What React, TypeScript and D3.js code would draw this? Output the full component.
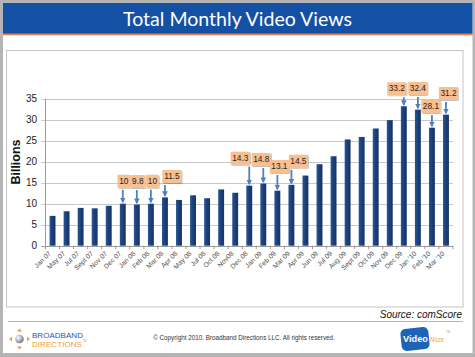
import React from "react";
import * as d3 from "d3";

const categories = [
  "Jan 07", "May 07", "Jul 07", "Sept 07", "Nov 07", "Dec 07", "Jan 08", "Feb 08", "Mar 08",
  "Apr 08", "May 08", "Jul 08", "Oct 08", "Nov08", "Dec 08", "Jan 09", "Feb 09", "Mar 09",
  "Apr 09", "Jun 09", "Jul 09", "Aug 09", "Sept 09", "Oct 09", "Nov 09", "Dec 09",
  "Jan '10", "Feb '10", "Mar '10",
];
const views = [
  7.1, 8.2, 9.0, 8.9, 9.5, 10, 9.8, 10, 11.5,
  10.9, 12.0, 11.3, 13.4, 12.6, 14.3, 14.8, 13.1, 14.5,
  16.7, 19.4, 21.3, 25.3, 25.9, 27.9, 29.9, 33.2,
  32.4, 28.1, 31.2,
];
const yTicks = [0, 5, 10, 15, 20, 25, 30, 35];
// callouts: category index
const calloutIndex = [5, 6, 7, 8, 14, 15, 16, 17, 25, 26, 27, 28];
// layout of callout boxes (offset from bar centre, gap above bar top)
const calloutDx = [1, 1, 1.5, 7, -9, -2, 2, 7, -7, 0, -1, 2.5];
const calloutGap = [16, 16.5, 16, 14.5, 21, 17.5, 17.7, 17, 11, 14.6, 14.7, 14.7];

const W = 475;
const H = 357;

export default function App() {
  const x = d3.scaleBand<string>().domain(categories).range([45.5, 453]).paddingInner(0.58).paddingOuter(0.29);
  const y = d3.scaleLinear().domain([0, 35]).range([245.7, 98.7]);
  const bw = x.bandwidth();
  const step = x.step();
  const font = "Arial, 'Liberation Sans', sans-serif";

  return (
    <svg width={W} height={H} style={{ position: "absolute", left: 0, top: 0 }} fontFamily={font}>
      <defs>
        <marker id="ah" viewBox="0 0 10 10" refX="8" refY="5" markerWidth="3.2" markerHeight="3.2" orient="auto">
          <path d="M0,0 L10,5 L0,10 z" fill="#4f81bd" />
        </marker>
        <linearGradient id="barg" x1="0" x2="1" y1="0" y2="0">
          <stop offset="0" stopColor="#2a5595" />
          <stop offset="0.5" stopColor="#1c3f78" />
          <stop offset="1" stopColor="#163466" />
        </linearGradient>
        <radialGradient id="sph" cx="0.35" cy="0.35" r="0.7">
          <stop offset="0" stopColor="#ffffff" />
          <stop offset="1" stopColor="#6a7590" />
        </radialGradient>
        <filter id="sh" x="-20%" y="-20%" width="150%" height="150%">
          <feDropShadow dx="0.8" dy="0.8" stdDeviation="0.6" floodColor="#000" floodOpacity="0.3" />
        </filter>
      </defs>
      {/* gray outer border */}
      <rect x={0} y={0} width={W} height={H} fill="#b4b4b4" />
      <rect x={3} y={3} width={469.5} height={350} fill="#ffffff" />
      {/* title bar */}
      <rect x={3} y={3} width={469.5} height={31} fill="#1450a3" />
      <rect x={3} y={33.5} width={469.5} height={1.8} fill="#e6814d" />
      <text x={237.5} y={26} textAnchor="middle" fill="#ffffff" fontSize={20} fontFamily="Lato, 'Open Sans', sans-serif" textLength={229} lengthAdjust="spacingAndGlyphs">
        Total Monthly Video Views
      </text>

      {/* chart frame */}
      <rect x={6.5} y={50.5} width={456.5} height={256.5} fill="#ffffff" stroke="#c4c4c4" strokeWidth={1} />

      {/* gridlines */}
      {yTicks.map((t) => (
        <g key={t}>
          <line x1={41.5} x2={453} y1={Math.round(y(t)) + 0.5} y2={Math.round(y(t)) + 0.5} stroke={t === 0 ? "#9a9a9a" : "#c8c8c8"} strokeWidth={1} />
          <text x={37} y={y(t) + 3.5} textAnchor="end" fontSize={10} fill="#222">
            {t}
          </text>
        </g>
      ))}
      <line x1={45.5} x2={45.5} y1={y(35)} y2={y(0)} stroke="#9a9a9a" />
      {/* x ticks */}
      {categories.map((c) => (
        <line key={"t" + c} x1={(x(c) as number) - (step - bw) / 2} x2={(x(c) as number) - (step - bw) / 2}
          y1={y(0)} y2={y(0) + 3.5} stroke="#9a9a9a" />
      ))}
      <line x1={453} x2={453} y1={y(0)} y2={y(0) + 3.5} stroke="#9a9a9a" />

      {/* bars */}
      {categories.map((c, i) => (
        <rect key={c} x={x(c)} y={y(views[i])} width={bw} height={y(0) - y(views[i])} fill="url(#barg)" />
      ))}

      {/* x labels */}
      {categories.map((c) => {
        const cx = (x(c) as number) + bw / 2 - 1;
        const cy = 254;
        return (
          <text key={"l" + c} transform={`translate(${cx},${cy}) rotate(-45)`} textAnchor="end" fontSize={6.8} fill="#555">
            {c}
          </text>
        );
      })}

      {/* y title */}
      <text transform="translate(20,162) rotate(-90)" textAnchor="middle" fontSize={12.5} fontWeight="bold" fill="#111">
        Billions
      </text>

      {/* callouts */}
      {calloutIndex.map((ci, k) => {
        const c = categories[ci];
        const v = views[ci];
        const bx = (x(c) as number) + bw / 2;
        const top = y(v);
        const boxBottom = top - calloutGap[k];
        const label = String(v);
        const tw = label.length * 4.3 - (label.includes(".") ? 2 : 0);
        const bwid = tw + 4;
        const bh = 13;
        const cx = bx + calloutDx[k];
        return (
          <g key={"c" + ci}>
            <line x1={bx} x2={bx} y1={boxBottom + 2} y2={top - 1.5} stroke="#4f81bd" strokeWidth={1.8} markerEnd="url(#ah)" />
            <rect x={cx - bwid / 2} y={boxBottom - bh} width={bwid} height={bh} fill="#fabf8f" rx={1} filter="url(#sh)" />
            <text x={cx} y={boxBottom - 3.8} textAnchor="middle" fontSize={8.3} fill="#222">
              {label}
            </text>
          </g>
        );
      })}

      {/* source */}
      <text x={462} y={318} textAnchor="end" fontSize={10} fontStyle="italic" fill="#111">
        Source: comScore
      </text>
      <line x1={8} x2={463} y1={321.5} y2={321.5} stroke="#f0a868" strokeWidth={1} />

      {/* footer: Broadband Directions logo */}
      <g>
        <circle cx={19.5} cy={339} r={4.3} fill="url(#sph)" />
        <path d="M19.5,328.5 l-2.6,3 h5.2 z" fill="#f0a040" />
        <path d="M19.5,349.5 l-2.6,-3 h5.2 z" fill="#f0a040" />
        <path d="M9,339 l3,-2.6 v5.2 z" fill="#f0a040" />
        <path d="M30,339 l-3,-2.6 v5.2 z" fill="#f0a040" />
        <text x={32} y={337.5} fontSize={8} fill="#2a5aa6" textLength={51} lengthAdjust="spacingAndGlyphs">BROADBAND</text>
        <text x={32} y={346.5} fontSize={8} fill="#f0a040" textLength={50} lengthAdjust="spacingAndGlyphs">DIRECTIONS</text>
        <text x={82.5} y={342} fontSize={3} fill="#f0a040">TM</text>
      </g>
      <text x={244} y={339.5} textAnchor="middle" fontSize={6.3} fill="#333">
        © Copyright 2010. Broadband Directions LLC.  All rights reserved.
      </text>

      {/* VideoNuze logo */}
      <g>
        <rect x={401} y={328} width={28} height={22} rx={5} fill="#1d64b8" transform="rotate(-6,415,339)" />
        <text x={403} y={342} fontSize={9.5} fontWeight="bold" fill="#ffffff" textLength={25} lengthAdjust="spacingAndGlyphs">Video</text>
        <text x={430} y={341.5} fontSize={8} fill="#f5a050" textLength={14} lengthAdjust="spacingAndGlyphs">Nüze</text>
        <text x={446} y={333} fontSize={3} fill="#f5a050">TM</text>
      </g>
    </svg>
  );
}
